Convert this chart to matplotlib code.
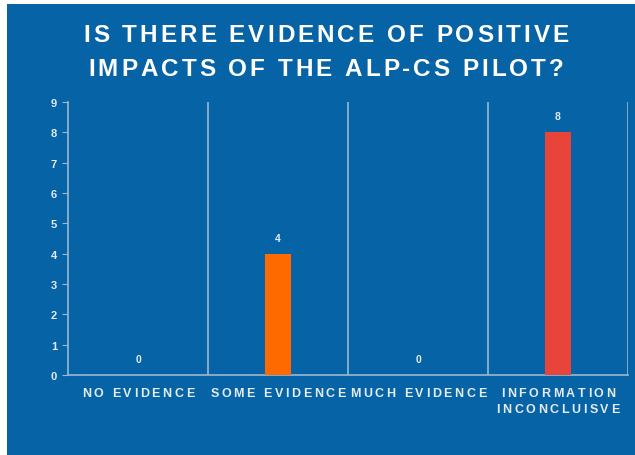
import matplotlib
matplotlib.use("Agg")
import matplotlib.pyplot as plt
from matplotlib.patches import Rectangle
from matplotlib.font_manager import FontProperties, findfont, get_font

# Données
categories = ["NO EVIDENCE", "SOME EVIDENCE", "MUCH EVIDENCE", "INFORMATION\nINCONCLUISVE"]
values = [0, 4, 0, 8]
bar_colors = ["#ff6a00", "#ff6a00", "#e8443a", "#e8443a"]
y_ticks = list(range(0, 10))
title = "IS THERE EVIDENCE OF POSITIVE\nIMPACTS OF THE ALP-CS PILOT?"

bg = "#0663a5"
line_col = "#9db7d0"
txt_col = "#e4ebf2"
W, H, DPI = 635, 456, 100
FAMILY = ["Liberation Sans", "DejaVu Sans"]

fig = plt.figure(figsize=(W / DPI, H / DPI), dpi=DPI)
fig.patch.set_facecolor("white")
fig.patches.append(Rectangle((7 / W, 0), 1 - 7 / W, 1 - 5 / H,
                             transform=fig.transFigure, facecolor=bg,
                             edgecolor="none", zorder=-10))


def tracked_text(s, cx, cy, size, track, color, line_px):
    """Texte centré en (cx, cy) pixels (origine en haut), avec espacement des lettres."""
    fp = FontProperties(family=FAMILY, weight="bold", size=size)
    font = get_font(findfont(fp))
    font.set_size(size, DPI)
    size_px = size * DPI / 72
    lines = s.split("\n")
    n = len(lines)
    for i, line in enumerate(lines):
        adv = []
        for ch in line:
            g = font.load_char(ord(ch))
            adv.append(g.linearHoriAdvance / 65536)
        total = sum(adv) + track * (len(line) - 1)
        x = cx - total / 2
        yc = cy + (i - (n - 1) / 2) * line_px
        base = yc + 0.716 * size_px / 2
        for ch, a in zip(line, adv):
            if ch != " ":
                fig.text(x / W, 1 - base / H, ch, ha="left", va="baseline",
                         color=color, fontproperties=fp)
            x += a + track


ax = fig.add_axes([68 / W, 1 - 376 / H, (628 - 68) / W, (376 - 103) / H])
ax.set_facecolor("none")
ax.set_zorder(2)

x = list(range(len(categories)))
ax.bar(x, values, width=0.19, color=bar_colors, zorder=3)

for xi, v in zip(x, values):
    ax.annotate(str(v), (xi, v), xytext=(0, 11.5), textcoords="offset points",
                ha="center", va="center", color=txt_col, fontsize=7.5,
                fontweight="bold", family=FAMILY)

# Séparateurs de catégories
for xs in [0.5, 1.5, 2.5, 3.5]:
    ax.axvline(xs, color=line_col, linewidth=1.2, zorder=1)

ax.set_xlim(-0.5, 3.5)
ax.set_ylim(0, 9)
ax.set_yticks(y_ticks)
ax.set_xticks(x)
ax.set_xticklabels([])
ax.tick_params(axis="x", length=0)
ax.tick_params(axis="y", length=4, color=line_col, labelcolor=txt_col,
               labelsize=8, pad=4)
for lab in ax.get_yticklabels():
    lab.set_fontweight("bold")
    lab.set_family(FAMILY)

for s in ["top", "right"]:
    ax.spines[s].set_visible(False)
for s in ["left", "bottom"]:
    ax.spines[s].set_color(line_col)
    ax.spines[s].set_linewidth(1.2)

# Étiquettes des catégories (espacées)
for xi, cat in zip(x, categories):
    px = ax.transData.transform((xi, 0))[0]
    nl = cat.count("\n") + 1
    tracked_text(cat, px, 393 + (nl - 1) * 8, 9, 2.6, txt_col, 16)

# Titre
tracked_text(title, 326, 50, 17.5, 3.0, "white", 34)

fig.savefig("out.png", dpi=DPI, facecolor=fig.get_facecolor())
